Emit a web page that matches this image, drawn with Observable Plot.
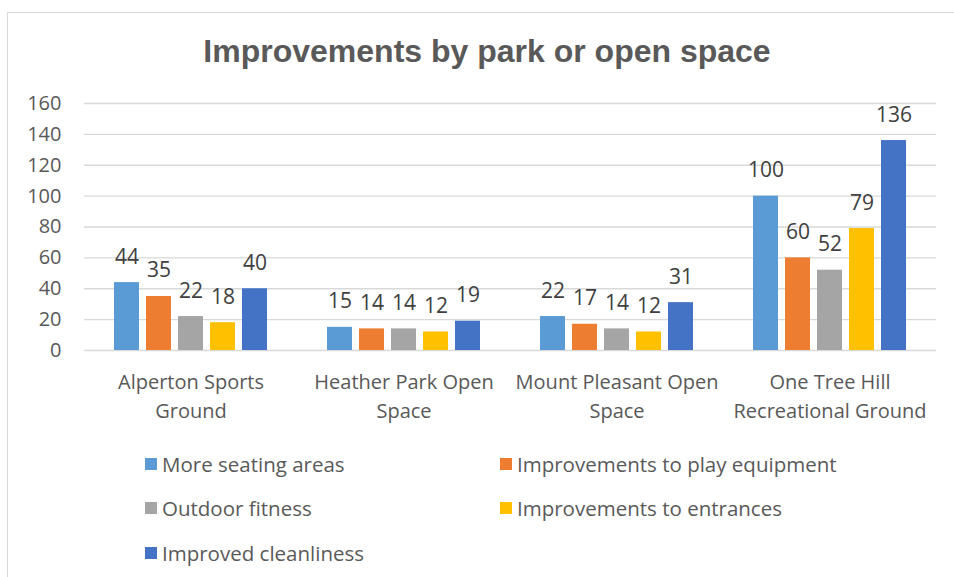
<!DOCTYPE html>
<html>
<head>
<meta charset="utf-8">
<script src="https://cdn.jsdelivr.net/npm/d3@7"></script>
<script src="https://cdn.jsdelivr.net/npm/@observablehq/plot@0.6"></script>
<style>
  html, body { margin: 0; padding: 0; background: #fff; }
  #wrap { position: relative; width: 954px; height: 577px; overflow: hidden; }
  #frame { position: absolute; left: 7px; top: 12px; width: 960px; height: 600px; border: 1px solid #d9d9d9; box-sizing: border-box; }
  #title { position: absolute; left: 0; width: 974px; top: 31px; text-align: center; font-family: "Liberation Sans", Arial, sans-serif; font-weight: bold; font-size: 32px; line-height: 40px; color: #595959; }
  #chart { position: absolute; left: 0; top: 0; }
  #legend { position: absolute; left: 0; top: 450px; font-family: "Open Sans", sans-serif; font-size: 20.5px; color: #595959; }
  .item { position: absolute; white-space: nowrap; display: flex; align-items: center; }
  .sw { width: 12px; height: 12px; margin-right: 5px; }
</style>
</head>
<body>
<div id="wrap">
  <div id="frame"></div>
  <div id="chart"></div>
  <div id="title">Improvements by park or open space</div>
  <div id="legend"></div>
</div>
<script>
const parks = ["Alperton Sports\nGround", "Heather Park Open\nSpace", "Mount Pleasant Open\nSpace", "One Tree Hill\nRecreational Ground"];
const series = ["More seating areas", "Improvements to play equipment", "Outdoor fitness", "Improvements to entrances", "Improved cleanliness"];
const colors = ["#5B9BD5", "#ED7D31", "#A5A5A5", "#FFC000", "#4472C4"];
const moreSeating = [44, 15, 22, 100];
const playEquipment = [35, 14, 17, 60];
const outdoorFitness = [22, 14, 14, 52];
const entrances = [18, 12, 12, 79];
const cleanliness = [40, 19, 31, 136];
const yTicks = [0, 20, 40, 60, 80, 100, 120, 140, 160];

const valuesBySeries = [moreSeating, playEquipment, outdoorFitness, entrances, cleanliness];
const data = [];
parks.forEach((p, i) => series.forEach((s, j) => data.push({park: p, series: s, value: valuesBySeries[j][i]})));

const chart = Plot.plot({
  width: 954,
  height: 430,
  marginTop: 103,
  marginBottom: 80,
  marginLeft: 83,
  marginRight: 17,
  style: {fontFamily: "'Open Sans', sans-serif", fontSize: "20px", color: "#595959", background: "transparent"},
  fx: {domain: parks, padding: 0, label: null},
  x: {domain: series, paddingInner: 0.21, paddingOuter: 0.84, axis: null},
  y: {domain: [0, 160], axis: null},
  color: {domain: series, range: colors},
  marks: [
    Plot.gridY(yTicks, {stroke: "#d9d9d9", strokeOpacity: 1, strokeWidth: 1.3}),
    Plot.axisY(yTicks, {tickSize: 0, tickPadding: 23, fill: "#595959", fontSize: 20, label: null}),
    Plot.axisFx({anchor: "bottom", tickSize: 0, tickPadding: 18, lineHeight: 1.45, fill: "#595959", fontSize: 20, label: null}),
    Plot.barY(data, {fx: "park", x: "series", y: "value", fill: "series"}),
    Plot.text(data, {fx: "park", x: "series", y: "value", text: d => String(d.value), lineAnchor: "bottom", dy: -19, fill: "#404040", fontSize: 21})
  ]
});
document.getElementById("chart").appendChild(chart);

const legend = document.getElementById("legend");
const pos = [[145, 0], [500, 0], [145, 44], [500, 44], [145, 89]];
series.forEach((s, i) => {
  const el = document.createElement("div");
  el.className = "item";
  el.style.left = pos[i][0] + "px";
  el.style.top = pos[i][1] + "px";
  el.innerHTML = `<span class="sw" style="background:${colors[i]}"></span><span>${s}</span>`;
  legend.appendChild(el);
});
</script>
</body>
</html>
